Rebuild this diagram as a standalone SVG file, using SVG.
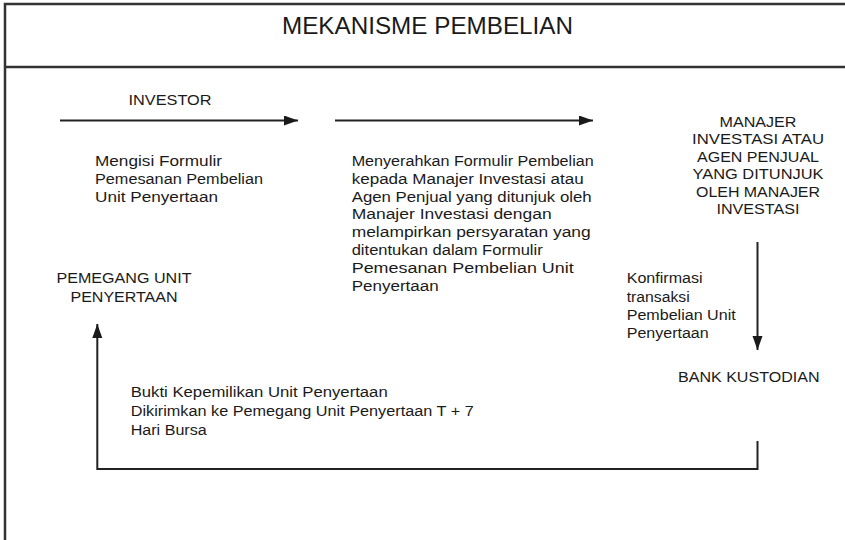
<svg xmlns="http://www.w3.org/2000/svg" width="845" height="540" viewBox="0 0 845 540">
<defs>
<style>
.frame{fill:none;stroke:#333;stroke-width:2.5}
.conn{fill:none;stroke:#222;stroke-width:2}
.t{font-family:"Liberation Sans",Arial,sans-serif;font-size:14px;fill:#1a1a1a}
.n{font-family:"Liberation Sans",Arial,sans-serif;font-size:14.5px;fill:#1a1a1a}
.title{font-family:"Liberation Sans",Arial,sans-serif;font-size:24px;fill:#1a1a1a}
</style>
<marker id="ah" markerUnits="userSpaceOnUse" markerWidth="15" markerHeight="11" refX="14" refY="5" orient="auto">
<path d="M0,0 L14,5 L0,10 z" fill="#1a1a1a"/>
</marker>
</defs>
<rect width="845" height="540" fill="#fff"/>
<g id="frame">
<path class="frame" d="M5,540 V4 H845"/>
<path class="frame" d="M5,67 H845"/>
<text class="title" x="282" y="34" textLength="291" lengthAdjust="spacingAndGlyphs">MEKANISME PEMBELIAN</text>
</g>
<g id="connectors">
<line class="conn" x1="60" y1="120.5" x2="298" y2="120.5" marker-end="url(#ah)"/>
<line class="conn" x1="335" y1="120.5" x2="593" y2="120.5" marker-end="url(#ah)"/>
<line class="conn" x1="757.5" y1="242" x2="757.5" y2="350" marker-end="url(#ah)"/>
<polyline class="conn" points="757.5,441 757.5,469 97.3,469 97.3,324" marker-end="url(#ah)"/>
</g>
<g id="investor">
<text class="n" x="128.5" y="105" textLength="83" lengthAdjust="spacingAndGlyphs">INVESTOR</text>
</g>
<g id="manajer">
<text class="n" text-anchor="middle" x="758" y="126.5" textLength="77" lengthAdjust="spacingAndGlyphs">MANAJER</text>
<text class="n" text-anchor="middle" x="758" y="144" textLength="132" lengthAdjust="spacingAndGlyphs">INVESTASI ATAU</text>
<text class="n" text-anchor="middle" x="758" y="161.5" textLength="122" lengthAdjust="spacingAndGlyphs">AGEN PENJUAL</text>
<text class="n" text-anchor="middle" x="758" y="179" textLength="131" lengthAdjust="spacingAndGlyphs">YANG DITUNJUK</text>
<text class="n" text-anchor="middle" x="758" y="196.5" textLength="124" lengthAdjust="spacingAndGlyphs">OLEH MANAJER</text>
<text class="n" text-anchor="middle" x="758" y="214" textLength="83" lengthAdjust="spacingAndGlyphs">INVESTASI</text>
</g>
<g id="pemegang">
<text class="n" text-anchor="middle" x="124" y="283.3" textLength="135" lengthAdjust="spacingAndGlyphs">PEMEGANG UNIT</text>
<text class="n" text-anchor="middle" x="124" y="301.7" textLength="107" lengthAdjust="spacingAndGlyphs">PENYERTAAN</text>
</g>
<g id="bank">
<text class="n" x="678" y="381.7" textLength="141.5" lengthAdjust="spacingAndGlyphs">BANK KUSTODIAN</text>
</g>
<g id="labels">
<text class="t" x="95" y="166" textLength="127" lengthAdjust="spacingAndGlyphs">Mengisi Formulir</text>
<text class="t" x="95" y="184" textLength="168" lengthAdjust="spacingAndGlyphs">Pemesanan Pembelian</text>
<text class="t" x="95" y="201.5" textLength="123" lengthAdjust="spacingAndGlyphs">Unit Penyertaan</text>

<text class="t" x="351.7" y="166" textLength="242" lengthAdjust="spacingAndGlyphs">Menyerahkan Formulir Pembelian</text>
<text class="t" x="351.7" y="184" textLength="232" lengthAdjust="spacingAndGlyphs">kepada Manajer Investasi atau</text>
<text class="t" x="351.7" y="201.7" textLength="240" lengthAdjust="spacingAndGlyphs">Agen Penjual yang ditunjuk oleh</text>
<text class="t" x="351.7" y="219.3" textLength="200" lengthAdjust="spacingAndGlyphs">Manajer Investasi dengan</text>
<text class="t" x="351.7" y="237" textLength="239" lengthAdjust="spacingAndGlyphs">melampirkan persyaratan yang</text>
<text class="t" x="351.7" y="255" textLength="191" lengthAdjust="spacingAndGlyphs">ditentukan dalam Formulir</text>
<text class="t" x="351.7" y="272.7" textLength="222" lengthAdjust="spacingAndGlyphs">Pemesanan Pembelian Unit</text>
<text class="t" x="351.7" y="290.5" textLength="87" lengthAdjust="spacingAndGlyphs">Penyertaan</text>

<text class="t" x="626.7" y="283.3" textLength="76" lengthAdjust="spacingAndGlyphs">Konfirmasi</text>
<text class="t" x="626.7" y="301.7" textLength="63" lengthAdjust="spacingAndGlyphs">transaksi</text>
<text class="t" x="626.7" y="320" textLength="109" lengthAdjust="spacingAndGlyphs">Pembelian Unit</text>
<text class="t" x="626.7" y="338.3" textLength="82" lengthAdjust="spacingAndGlyphs">Penyertaan</text>

<text class="t" x="130.7" y="397.3" textLength="257" lengthAdjust="spacingAndGlyphs">Bukti Kepemilikan Unit Penyertaan</text>
<text class="t" x="130.7" y="416" textLength="343" lengthAdjust="spacingAndGlyphs">Dikirimkan ke Pemegang Unit Penyertaan T + 7</text>
<text class="t" x="130.7" y="434.5" textLength="76" lengthAdjust="spacingAndGlyphs">Hari Bursa</text>
</g>
</svg>
